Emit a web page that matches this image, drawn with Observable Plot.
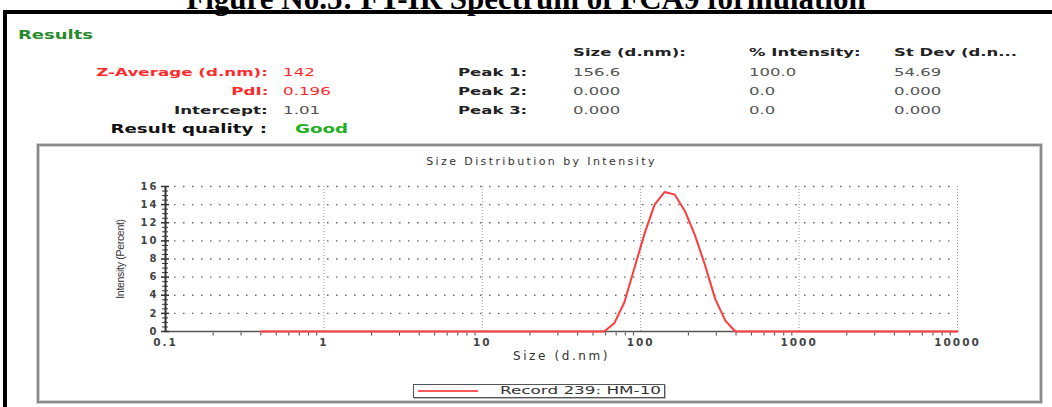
<!DOCTYPE html>
<html><head><meta charset="utf-8">
<script src="https://cdn.jsdelivr.net/npm/d3@7"></script>
<script src="https://cdn.jsdelivr.net/npm/@observablehq/plot@0.6"></script>
<style>
html,body{margin:0;padding:0;background:#fff;}
#page{position:relative;width:1052px;height:407px;overflow:hidden;background:#fff;font-family:"DejaVu Sans",sans-serif;}
.t{position:absolute;white-space:nowrap;line-height:1;}
#frame{position:absolute;left:3px;top:10px;width:1200px;height:600px;border-left:4px solid #000;border-top:4px solid #000;}
#panel{position:absolute;left:37px;top:144px;width:1005px;height:259px;box-sizing:border-box;border:2px solid #8a8a8a;box-shadow:inset 0 0 0 1px #d0d0d0, 0 0 0 1px #d0d0d0;}
#chart{position:absolute;left:40px;top:147px;}
#legend{position:absolute;left:413px;top:384px;width:252px;height:14px;box-sizing:border-box;border:1.5px solid #555;background:#fff;box-shadow:1px 1px 0 #bbb;}
#legline{position:absolute;left:4px;top:5px;width:60px;height:0;border-top:2px solid #ff5a5a;}
</style></head><body><div id="page"><div id="frame"></div><div id="panel"></div></div>
<script>
// ---- data ----
const figureTitle = "Figure No.5: FT-IR Spectrum of FCA9 formulation";
const resultLabels = ["Z-Average (d.nm):", "PdI:", "Intercept:"];
const resultValues = ["142", "0.196", "1.01"];
const peakLabels = ["Peak 1:", "Peak 2:", "Peak 3:"];
const peakColumns = ["Size (d.nm):", "% Intensity:", "St Dev (d.n..."];
const peakSize = ["156.6", "0.000", "0.000"];
const peakIntensity = ["100.0", "0.0", "0.0"];
const peakStDev = ["54.69", "0.000", "0.000"];
const qualityLabel = "Result quality :";
const qualityValue = "Good";

const chartTitle = "Size Distribution by Intensity";
const xLabel = "Size (d.nm)";
const yLabel = "Intensity (Percent)";
const legendLabel = "Record 239: HM-10";

const sizeClasses = [0.4, 0.4632, 0.5365, 0.6213, 0.7195, 0.8332, 0.9649, 1.117, 1.294, 1.499,
  1.736, 2.01, 2.328, 2.696, 3.122, 3.615, 4.187, 4.849, 5.615, 6.503,
  7.531, 8.721, 10.1, 11.7, 13.54, 15.69, 18.17, 21.04, 24.36, 28.21,
  32.67, 37.84, 43.82, 50.75, 58.77, 68.06, 78.82, 91.28, 105.7, 122.4,
  141.8, 164.2, 190.1, 220.2, 255, 295.3, 342, 396.1, 458.7, 531.2,
  615.1, 712.4, 825, 955.4, 1106, 1281, 1484, 1718, 1990, 2305,
  2669, 3091, 3580, 4145, 4801, 5560, 6439, 7456, 8635, 10000];
const intensity = [0, 0, 0, 0, 0, 0, 0, 0, 0, 0,
  0, 0, 0, 0, 0, 0, 0, 0, 0, 0,
  0, 0, 0, 0, 0, 0, 0, 0, 0, 0,
  0, 0, 0, 0, 0, 0.9, 3.2, 7.0, 10.8, 14.0,
  15.4, 15.1, 13.3, 10.6, 7.3, 3.6, 1.2, 0, 0, 0,
  0, 0, 0, 0, 0, 0, 0, 0, 0, 0,
  0, 0, 0, 0, 0, 0, 0, 0, 0, 0];

const xTicks = [0.1, 1, 10, 100, 1000, 10000];
const xTickLabels = ["0.1", "1", "10", "100", "1000", "10000"];
const yTicks = [0, 2, 4, 6, 8, 10, 12, 14, 16];

// ---- header texts ----
const page = document.getElementById("page");
function put(str, x, y, o = {}) {
  const s = document.createElement("div");
  s.className = "t";
  s.textContent = str;
  s.style.fontSize = (o.size || 11) + "px";
  s.style.fontWeight = o.weight || "normal";
  s.style.color = o.color || "#222";
  s.style.fontFamily = o.family || '"DejaVu Sans", sans-serif';
  s.style.top = y + "px";
  const sx = o.sx ?? 1.5;
  if (o.anchor === "end") {
    s.style.right = (1052 - x) + "px";
    s.style.transformOrigin = "right center";
    s.style.transform = `translateY(-50%) scaleX(${sx})`;
  } else if (o.anchor === "middle") {
    s.style.left = x + "px";
    s.style.transformOrigin = "left center";
    s.style.transform = `translate(-50%,-50%) scaleX(${sx})`;
  } else {
    s.style.left = x + "px";
    s.style.transformOrigin = "left center";
    s.style.transform = `translateY(-50%) scaleX(${sx})`;
  }
  page.appendChild(s);
  return s;
}

put(figureTitle, 526, -2, {anchor: "middle", size: 31, weight: "bold", color: "#000", family: '"Liberation Serif", serif', sx: 1});
put("Results", 18, 35, {size: 12, weight: "bold", color: "#2a8a2a", sx: 1.5});

const rowY = [72, 91, 110];
const resultColors = ["#ff2a2a", "#ff2a2a", "#222"];
const valueColors = ["#ff2a2a", "#ff2a2a", "#555"];
resultLabels.forEach((l, i) => {
  put(l, 268, rowY[i], {anchor: "end", size: 11, weight: "bold", color: resultColors[i], sx: 1.52});
  put(resultValues[i], 283, rowY[i], {size: 11, color: valueColors[i], sx: 1.52});
});
put(qualityLabel, 267, 129, {anchor: "end", size: 12, weight: "bold", color: "#111", sx: 1.52});
put(qualityValue, 295, 129, {size: 12, weight: "bold", color: "#22b022", sx: 1.52});

const colX = [573, 749, 894];
peakColumns.forEach((c, j) => put(c, colX[j], 52, {size: 11, weight: "bold", color: "#222", sx: 1.5}));
peakLabels.forEach((l, i) => {
  put(l, 458, rowY[i], {size: 11, weight: "bold", color: "#222", sx: 1.5});
  [peakSize, peakIntensity, peakStDev].forEach((arr, j) =>
    put(arr[i], colX[j], rowY[i], {size: 11, color: "#555", sx: 1.5}));
});

// ---- chart ----
const minorY = d3.range(0, 16.01, 0.5).filter(v => v % 2 !== 0);
const minorX = d3.scaleLog().domain([0.1, 10000]).ticks().filter(v => !xTicks.includes(v));
const idx = d3.range(sizeClasses.length);

const chart = Plot.plot({
  width: 1000,
  height: 253,
  marginLeft: 125,
  marginRight: 83,
  marginTop: 39,
  marginBottom: 69,
  x: {type: "log", domain: [0.1, 10000]},
  y: {domain: [0, 16]},
  style: {fontFamily: '"DejaVu Sans", sans-serif', background: "transparent", overflow: "visible"},
  marks: [
    Plot.ruleY(yTicks.slice(1), {stroke: "#666", strokeWidth: 1.3, strokeDasharray: "1.5,7.5"}),
    Plot.ruleX(xTicks.slice(1), {stroke: "#999", strokeWidth: 1, strokeDasharray: "1,2"}),
    Plot.ruleY([0], {stroke: "#555", strokeWidth: 1.5}),
    Plot.axisX({ticks: minorX, tickSize: 3, dy: 1.5, tickFormat: () => "", label: null, stroke: "#444"}),
    Plot.text(xTicks, {x: d => d, frameAnchor: "bottom", dy: 14, text: (d, i) => xTickLabels[i],
      fontSize: 10.5, fontWeight: "bold", fill: "#444"}),
    Plot.ruleX([0.1], {stroke: "#333", strokeWidth: 2}),
    Plot.axisY({ticks: yTicks, tickSize: 8, dx: 4, tickPadding: 3, label: null, stroke: "#333", strokeWidth: 1.5,
      fontSize: 10, fontWeight: "bold", fill: "#444"}),
    Plot.axisY({ticks: minorY, tickSize: 6, dx: 3, tickFormat: () => "", label: null, stroke: "#333"}),
    Plot.line(idx, {x: i => sizeClasses[i], y: i => intensity[i], stroke: "#ff3b3b", strokeWidth: 2}),
    Plot.text([chartTitle], {frameAnchor: "top", dy: -29, dx: -20, fontSize: 11, fill: "#333"}),
    Plot.text([xLabel], {frameAnchor: "bottom", dy: 28, fontSize: 12, fill: "#333"}),
    Plot.text([yLabel], {frameAnchor: "left", dx: -45, rotate: -90, textAnchor: "middle", fontSize: 10.5,
      fontFamily: '"Liberation Sans Narrow", "Liberation Sans", sans-serif', fill: "#333"})
  ]
});
chart.id = "chart";
page.appendChild(chart);
const spacing = {[chartTitle]: "2.4px", [xLabel]: "2.6px", [yLabel]: "-0.3px"};
chart.querySelectorAll("text").forEach(t => {
  const s = spacing[t.textContent];
  t.style.letterSpacing = s !== undefined ? s : "2px";
});

// ---- legend ----
const lg = document.createElement("div");
lg.id = "legend";
lg.innerHTML = '<div id="legline"></div>';
page.appendChild(lg);
put(legendLabel, 500, 391, {size: 10, color: "#333", sx: 1.68});
</script></body></html>
